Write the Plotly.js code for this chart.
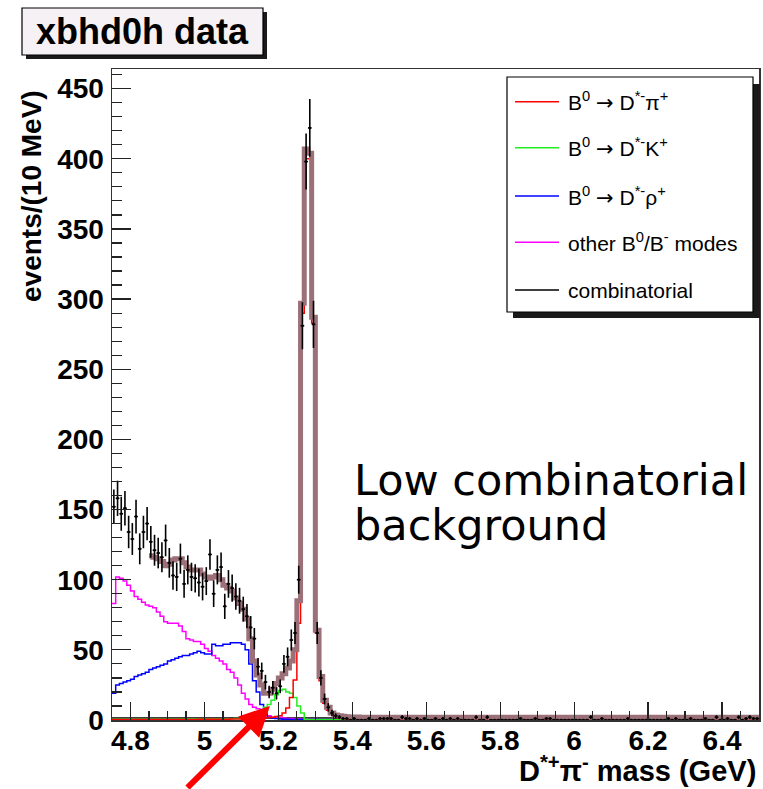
<!DOCTYPE html>
<html><head><meta charset="utf-8">
<script src="https://cdn.plot.ly/plotly-3.0.1.min.js"></script>
<style>html,body{margin:0;padding:0;background:#fff;}#chart{width:763px;height:789px;}</style>
</head><body><div id="chart"></div>
<script>
// Histogram binning: 175 bins of 10 MeV starting at 4.75 GeV
const binLow = 4.75, binWidth = 0.01;

const dataCounts = [
152,158,147,151,134,129,145,122,134,140,
127,121,119,116,128,112,103,102,115,97,
107,102,101,98,95,99,118,90,107,109,
81,97,94,88,85,79,74,66,58,38,
35,27,20,23,19,24,40,45,57,62,
100,281,398,422,282,62,30,15,9,5,
3,2,1,1,0,1,0,0,0,1,
0,0,1,1,1,1,0,0,2,1,
1,0,1,0,1,0,0,1,0,1,
0,1,0,1,0,0,0,0,2,0,
0,2,0,0,0,0,0,0,0,0,
1,0,0,0,1,0,0,1,1,0,
0,0,0,0,0,0,0,0,0,2,
0,0,1,0,0,0,0,0,0,1,
0,0,0,0,0,0,0,0,0,0,
1,0,1,0,0,0,1,0,0,0,
1,0,0,2,0,0,1,0,0,2,
0,1,2,1,1];

const totalFit = [
null,null,null,null,null,null,null,null,null,null,
117,116,115,113,110,111,114,115,115,112,
109,107,107,107,104,102,101,102,103,100,
96,94,92,87,83,79,72,58,42,32,
25,19,19,22,26,30,33,37,42,50,
85,297,407,404,287,64,31,14,9,5,
3.5,3,2.6,2.4,2.2,2.1,2.1,2,2,2,
2,2,2,2,2,2,2,2,2,2,
2,2,2,2,2,2,2,2,2,2,
2,2,2,2,2,2,2,2,2,2,
2,2,2,2,2,2,2,2,2,2,
2,2,2,2,2,2,2,2,2,2,
1.9,1.9,1.9,1.9,1.9,1.9,1.9,1.9,1.9,1.9,
1.9,1.9,1.9,1.9,1.9,1.9,1.9,1.9,1.9,1.9,
1.9,1.9,1.9,1.9,1.9,1.9,1.9,1.9,1.9,1.9,
1.9,1.9,1.9,1.9,1.9,1.9,1.9,1.9,1.9,1.9,
1.9,1.9,1.9,1.9,1.9,1.9,1.9,1.9,1.9,1.9,
1.9,1.9,1.9,1.9,1.9];

const sigDstarPi = [
0.3,0.3,0.3,0.3,0.3,0.3,0.3,0.3,0.3,0.3,
0.3,0.3,0.3,0.3,0.3,0.3,0.4,0.4,0.4,0.4,
0.4,0.4,0.4,0.5,0.5,0.5,0.5,0.5,0.6,0.6,
0.6,0.6,0.7,0.7,0.8,0.8,0.9,1,1,1.2,
1.3,1.5,1.7,2,2.5,3,5,8.5,16,28.5,
69,290,400,400,283,62,28,12,7,4,
2.5,1.5,1,0.8,0.6,0.5,0.5,0.4,0.4,0.3,
0.3,0.3,0.3,0.3,0.3,0.3,0.3,0.3,0.3,0.3,
0.3,0.3,0.3,0.3,0.3,0.3,0.3,0.3,0.3,0.3,
0.3,0.3,0.3,0.3,0.3,0.3,0.3,0.3,0.3,0.3,
0.3,0.3,0.3,0.3,0.3,0.3,0.3,0.3,0.3,0.3,
0.3,0.3,0.3,0.3,0.3,0.3,0.3,0.3,0.3,0.3,
0.3,0.3,0.3,0.3,0.3,0.3,0.3,0.3,0.3,0.3,
0.3,0.3,0.3,0.3,0.3,0.3,0.3,0.3,0.3,0.3,
0.3,0.3,0.3,0.3,0.3,0.3,0.3,0.3,0.3,0.3,
0.3,0.3,0.3,0.3,0.3,0.3,0.3,0.3,0.3,0.3,
0.3,0.3,0.3,0.3,0.3,0.3,0.3,0.3,0.3,0.3,
0.3,0.3,0.3,0.3,0.3];

const sigDstarK = [
0.5,0.5,0.5,0.5,0.5,0.5,0.5,0.5,0.5,0.5,
0.6,0.6,0.6,0.6,0.6,0.6,0.6,0.6,0.6,0.6,
0.7,0.7,0.7,0.7,0.7,0.7,0.7,0.7,0.7,0.7,
0.8,0.8,0.8,1,1,1.2,1.5,2,2.5,5,
6,9,11,14,18,21,22,20,19,16,
10,5,0.6,0.4,0.3,0.3,0.3,0.3,0.3,0.3,
0.2,0.2,0.2,0.2,0.2,0.2,0.2,0.2,0.2,0.2,
0.2,0.2,0.2,0.2,0.2,0.2,0.2,0.2,0.2,0.2,
0.2,0.2,0.2,0.2,0.2,0.2,0.2,0.2,0.2,0.2,
0.2,0.2,0.2,0.2,0.2,0.2,0.2,0.2,0.2,0.2,
0.2,0.2,0.2,0.2,0.2,0.2,0.2,0.2,0.2,0.2,
0.2,0.2,0.2,0.2,0.2,0.2,0.2,0.2,0.2,0.2,
0.2,0.2,0.2,0.2,0.2,0.2,0.2,0.2,0.2,0.2,
0.2,0.2,0.2,0.2,0.2,0.2,0.2,0.2,0.2,0.2,
0.2,0.2,0.2,0.2,0.2,0.2,0.2,0.2,0.2,0.2,
0.2,0.2,0.2,0.2,0.2,0.2,0.2,0.2,0.2,0.2,
0.2,0.2,0.2,0.2,0.2,0.2,0.2,0.2,0.2,0.2,
0.2,0.2,0.2,0.2,0.2];

const bkgDstarRho = [
19,25,26,27,28,29,31,32,33,34,
36,37,38,39,40,42,43,44,45,46,
46,47,48,49,48,47,47,54,53,53,
54,54,55,55,55,54,50,40,28,20,
11,4,2,1.5,1,0.8,0.6,0.5,0.4,0.3,
0.3,0.3,0.3,0.3,0.3,0.3,0.3,0.3,0.3,0.3,
0.2,0.2,0.2,0.2,0.2,0.2,0.2,0.2,0.2,0.2,
0.2,0.2,0.2,0.2,0.2,0.2,0.2,0.2,0.2,0.2,
0.2,0.2,0.2,0.2,0.2,0.2,0.2,0.2,0.2,0.2,
0.2,0.2,0.2,0.2,0.2,0.2,0.2,0.2,0.2,0.2,
0.2,0.2,0.2,0.2,0.2,0.2,0.2,0.2,0.2,0.2,
0.2,0.2,0.2,0.2,0.2,0.2,0.2,0.2,0.2,0.2,
0.2,0.2,0.2,0.2,0.2,0.2,0.2,0.2,0.2,0.2,
0.2,0.2,0.2,0.2,0.2,0.2,0.2,0.2,0.2,0.2,
0.2,0.2,0.2,0.2,0.2,0.2,0.2,0.2,0.2,0.2,
0.2,0.2,0.2,0.2,0.2,0.2,0.2,0.2,0.2,0.2,
0.2,0.2,0.2,0.2,0.2,0.2,0.2,0.2,0.2,0.2,
0.2,0.2,0.2,0.2,0.2];

const bkgOther = [
83,102,101,99,96,92,88,86,84,82,
81,80,77,74,70,69,69,69,67,63,
58,57,56,56,54,51,49,46,44,42,
40,36,34,30,25,19,15,11,9,8,
7,5,3,2,2,2,1.5,1,1,0.8,
0.7,0.6,0.5,0.5,0.5,0.4,0.4,0.4,0.4,0.4,
0.4,0.4,0.4,0.4,0.4,0.4,0.4,0.4,0.4,0.4,
0.4,0.4,0.4,0.4,0.4,0.4,0.4,0.4,0.4,0.4,
0.4,0.4,0.4,0.4,0.4,0.4,0.4,0.4,0.4,0.4,
0.4,0.4,0.4,0.4,0.4,0.4,0.4,0.4,0.4,0.4,
0.4,0.4,0.4,0.4,0.4,0.4,0.4,0.4,0.4,0.4,
0.4,0.4,0.4,0.4,0.4,0.4,0.4,0.4,0.4,0.4,
0.3,0.3,0.3,0.3,0.3,0.3,0.3,0.3,0.3,0.3,
0.3,0.3,0.3,0.3,0.3,0.3,0.3,0.3,0.3,0.3,
0.3,0.3,0.3,0.3,0.3,0.3,0.3,0.3,0.3,0.3,
0.3,0.3,0.3,0.3,0.3,0.3,0.3,0.3,0.3,0.3,
0.3,0.3,0.3,0.3,0.3,0.3,0.3,0.3,0.3,0.3,
0.3,0.3,0.3,0.3,0.3];

const bkgComb = [
1.4,1.4,1.4,1.4,1.4,1.4,1.4,1.4,1.4,1.4,
1.4,1.4,1.4,1.4,1.4,1.4,1.4,1.4,1.4,1.4,
1.4,1.4,1.4,1.4,1.4,1.4,1.4,1.4,1.4,1.4,
1.4,1.4,1.4,1.4,1.4,1.4,1.4,1.4,1.4,1.4,
1.4,1.4,1.4,1.4,1.4,1.4,1.4,1.4,1.4,1.4,
1.4,1.4,1.4,1.4,1.4,1.4,1.4,1.4,1.4,1.4,
1.1,1.1,1.1,1.1,1.1,1.1,1.1,1.1,1.1,1.1,
1.1,1.1,1.1,1.1,1.1,1.1,1.1,1.1,1.1,1.1,
1.1,1.1,1.1,1.1,1.1,1.1,1.1,1.1,1.1,1.1,
1.1,1.1,1.1,1.1,1.1,1.1,1.1,1.1,1.1,1.1,
1.1,1.1,1.1,1.1,1.1,1.1,1.1,1.1,1.1,1.1,
1.1,1.1,1.1,1.1,1.1,1.1,1.1,1.1,1.1,1.1,
1.0,1.0,1.0,1.0,1.0,1.0,1.0,1.0,1.0,1.0,
1.0,1.0,1.0,1.0,1.0,1.0,1.0,1.0,1.0,1.0,
1.0,1.0,1.0,1.0,1.0,1.0,1.0,1.0,1.0,1.0,
1.0,1.0,1.0,1.0,1.0,1.0,1.0,1.0,1.0,1.0,
1.0,1.0,1.0,1.0,1.0,1.0,1.0,1.0,1.0,1.0,
1.0,1.0,1.0,1.0,1.0];

const ARW = '<span style="font-family:DejaVu Sans">\u2192</span>';
const legendLabels = [
  'B<sup>0</sup> ' + ARW + ' D<sup>*-</sup>\u03c0<sup>+</sup>',
  'B<sup>0</sup> ' + ARW + ' D<sup>*-</sup>K<sup>+</sup>',
  'B<sup>0</sup> ' + ARW + ' D<sup>*-</sup>\u03c1<sup>+</sup>',
  'other B<sup>0</sup>/B<sup>-</sup> modes',
  'combinatorial'
];
const legendColors = ['#ff0000', '#22ee22', '#0000ff', '#ff00ff', '#000000'];
const titleText = 'xbhd0h data';
const xTitleText = 'D<sup>*+</sup>\u03c0<sup>-</sup> mass (GeV)';
const yTitleText = 'events/(10 MeV)';
const noteLines = ['Low combinatorial', 'background'];

// ---- build ----
const nBins = dataCounts.length;
const edges = [], centers = [];
for (let i = 0; i <= nBins; i++) edges.push(+(binLow + i * binWidth).toFixed(4));
for (let i = 0; i < nBins; i++) centers.push(+(binLow + (i + 0.5) * binWidth).toFixed(4));
const stepY = arr => arr.concat([arr[arr.length - 1]]);

function hist(arr, color, width) {
  return {x: edges, y: stepY(arr), type: 'scatter', mode: 'lines',
    line: {shape: 'hv', color: color, width: width}, hoverinfo: 'skip', showlegend: false, connectgaps: false};
}

const traces = [
  hist(bkgComb, legendColors[4], 1.5),
  hist(bkgOther, legendColors[3], 1.5),
  hist(bkgDstarRho, legendColors[2], 1.5),
  hist(sigDstarK, legendColors[1], 1.5),
  hist(sigDstarPi, legendColors[0], 1.5),
  hist(totalFit, '#9b7078', 5),
  {x: centers, y: dataCounts, type: 'scatter', mode: 'markers',
   marker: {size: 2.5, color: 'black'},
   error_y: {type: 'sqrt', color: 'black', thickness: 1.6, width: 0},
   error_x: {type: 'constant', value: binWidth / 2, color: 'black', thickness: 1.5, width: 0},
   hoverinfo: 'skip', showlegend: false}
];

// pixel -> paper helpers (plot area 112..759 x 69..720)
const PL = 112, PR = 759, PT = 69, PB = 720;
const fx = p => (p - PL) / (PR - PL);
const fy = p => (PB - p) / (PB - PT);
function rect(x0, y0, x1, y1, fill, lineColor) {
  return {type: 'rect', xref: 'paper', yref: 'paper', x0: fx(x0), x1: fx(x1), y0: fy(y1), y1: fy(y0),
    fillcolor: fill, line: {color: lineColor || fill, width: lineColor ? 1.2 : 0}, layer: 'above'};
}

const shapes = [
  rect(26, 12, 267, 59, '#1a1a1a'),
  rect(22, 8, 263, 55, '#f5f1f5', '#000'),
  rect(513, 84, 760, 318, '#1a1a1a'),
  rect(507, 77, 753, 312, '#ffffff', '#000')
];
const legendY = [101.7, 147.7, 196, 242.3, 290];
legendY.forEach((yy, i) => {
  shapes.push({type: 'line', xref: 'paper', yref: 'paper', x0: fx(515), x1: fx(559), y0: fy(yy), y1: fy(yy),
    line: {color: legendColors[i], width: 1.5}, layer: 'above'});
});

const baseFont = 'Liberation Sans, Arial, Helvetica, sans-serif';
const annotations = [
  {xref: 'paper', yref: 'paper', x: fx(142.5), y: fy(31.5), xanchor: 'center', yanchor: 'middle',
   text: titleText, showarrow: false, font: {family: baseFont, size: 36, weight: 'bold', color: 'black'}},
  {xref: 'paper', yref: 'paper', x: fx(31), y: fy(196), xanchor: 'center', yanchor: 'middle', textangle: -90,
   text: yTitleText, showarrow: false, font: {family: baseFont, size: 28, weight: 'bold', color: 'black'}},
  {xref: 'paper', yref: 'paper', x: fx(758), y: fy(769), xanchor: 'right', yanchor: 'middle',
   text: xTitleText, showarrow: false, font: {family: baseFont, size: 29, weight: 'bold', color: 'black'}},
  {xref: 'paper', yref: 'paper', x: fx(352), y: fy(480), xanchor: 'left', yanchor: 'middle',
   text: noteLines[0], showarrow: false, font: {family: 'Comic Sans MS, DejaVu Sans, sans-serif', size: 43, color: 'black'}},
  {xref: 'paper', yref: 'paper', x: fx(352), y: fy(525), xanchor: 'left', yanchor: 'middle',
   text: noteLines[1], showarrow: false, font: {family: 'Comic Sans MS, DejaVu Sans, sans-serif', size: 43, color: 'black'}},
  {xref: 'paper', yref: 'paper', x: fx(270), y: fy(706), text: '', showarrow: true,
   ax: -84, ay: 84, arrowhead: 2, arrowsize: 1, arrowwidth: 6, arrowcolor: '#ff0000', standoff: 0}
];
legendLabels.forEach((t, i) => {
  annotations.push({xref: 'paper', yref: 'paper', x: fx(566), y: fy(legendY[i]), xanchor: 'left', yanchor: 'middle',
    text: t, showarrow: false, font: {family: baseFont, size: 21, color: 'black'}});
});

const axisCommon = {
  ticks: 'inside', tickwidth: 1.2, tickcolor: '#222', showline: true, mirror: true,
  linecolor: '#333', linewidth: 1.5, showgrid: false, zeroline: false,
  tickfont: {family: baseFont, size: 28, weight: 'bold', color: 'black'}, fixedrange: true
};

const layout = {
  width: 763, height: 789,
  margin: {l: PL, r: 763 - PR, t: PT, b: 789 - PB, pad: 0},
  paper_bgcolor: 'white', plot_bgcolor: 'white', showlegend: false,
  font: {family: baseFont, color: 'black'},
  xaxis: Object.assign({}, axisCommon, {range: [4.75, 6.5], tick0: 4.8, dtick: 0.2, ticklen: 18,
    ticklabelstandoff: -5,
    minor: {tick0: 4.75, dtick: 0.05, ticks: 'inside', ticklen: 9, tickwidth: 1.2, tickcolor: '#222'}}),
  yaxis: Object.assign({}, axisCommon, {range: [0, 464], tick0: 0, dtick: 50, ticklen: 19,
    ticklabelstandoff: 1,
    minor: {tick0: 0, dtick: 10, ticks: 'inside', ticklen: 9.5, tickwidth: 1.2, tickcolor: '#222'}}),
  shapes: shapes,
  annotations: annotations
};

Plotly.newPlot('chart', traces, layout, {staticPlot: true, displayModeBar: false});
</script>
</body></html>
